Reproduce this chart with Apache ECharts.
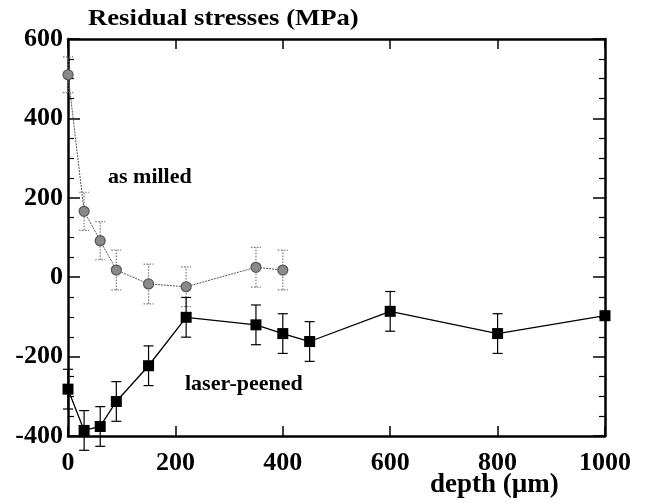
<!DOCTYPE html>
<html><head><meta charset="utf-8">
<script src="https://cdn.jsdelivr.net/npm/echarts@6/dist/echarts.min.js"></script>
<style>html,body{margin:0;padding:0;background:#fff}#c{width:648px;height:504px}</style>
</head><body><div id="c"></div>
<script>
var depthMilled = [0, 30, 60, 90, 150, 220, 350, 400];
var stressMilled = [510, 166, 92, 18, -17, -24, 25, 18];
var errMilled = [45, 48, 48, 50, 50, 50, 50, 50];
var depthLaser = [0, 30, 60, 90, 150, 220, 350, 400, 450, 600, 800, 1000];
var stressLaser = [-282, -386, -376, -313, -223, -101, -120, -142, -162, -86, -142, -97];
var errLaser = [50, 50, 50, 50, 50, 50, 50, 50, 50, 50, 50, 0];
var xTicks = [0, 200, 400, 600, 800, 1000];
var yTicks = [-400, -200, 0, 200, 400, 600];

var FONT = '"Liberation Serif", "DejaVu Serif", serif';
function pairs(xs, ys) { return xs.map(function (x, i) { return [x, ys[i]]; }); }
function errData(xs, ys, es) { return xs.map(function (x, i) { return [x, ys[i] - es[i], ys[i] + es[i]]; }); }
function errRender(color, dashed, cap) {
  return function (params, api) {
    var lo = api.coord([api.value(0), api.value(1)]);
    var hi = api.coord([api.value(0), api.value(2)]);
    var st = { stroke: color, lineWidth: 1.2, lineDash: dashed ? [1.5, 1.5] : null };
    return {
      type: 'group',
      children: [
        { type: 'line', shape: { x1: lo[0], y1: lo[1], x2: hi[0], y2: hi[1] }, style: st },
        { type: 'line', shape: { x1: lo[0] - cap, y1: lo[1], x2: lo[0] + cap, y2: lo[1] }, style: st },
        { type: 'line', shape: { x1: hi[0] - cap, y1: hi[1], x2: hi[0] + cap, y2: hi[1] }, style: st }
      ]
    };
  };
}
var axisLine = { show: true, onZero: false, lineStyle: { color: '#000', width: 2.5 } };
var chart = echarts.init(document.getElementById('c'), null, { renderer: 'canvas' });
chart.setOption({
  animation: false,
  backgroundColor: '#fff',
  grid: { left: 68, right: 43, top: 39, bottom: 68, containLabel: false },
  graphic: [
    { type: 'text', x: 88, y: 8, scaleX: 1.16, style: { text: 'Residual stresses (MPa)', font: 'bold 23px ' + FONT, fill: '#000' } },
    { type: 'text', x: 430, y: 472, style: { text: 'depth (\u00b5m)', font: 'bold 27px ' + FONT, fill: '#000' } },
    { type: 'text', x: 108, y: 166, style: { text: 'as milled', font: 'bold 22px ' + FONT, fill: '#000' } },
    { type: 'text', x: 185, y: 373, style: { text: 'laser-peened', font: 'bold 22px ' + FONT, fill: '#000' } }
  ],
  xAxis: [
    { type: 'value', min: 0, max: 1000, interval: 200, position: 'bottom',
      axisLine: axisLine, splitLine: { show: false },
      axisTick: { inside: true, length: 10, lineStyle: { color: '#000', width: 1.5 } },
      axisLabel: { margin: 14, fontFamily: FONT, fontWeight: 'bold', fontSize: 26, color: '#000',
        formatter: function (v) { return xTicks.indexOf(v) >= 0 ? String(v) : ''; } } },
    { type: 'value', min: 0, max: 1000, interval: 200, position: 'top',
      axisLine: axisLine, splitLine: { show: false },
      axisTick: { inside: true, length: 10, lineStyle: { color: '#000', width: 1.5 } },
      axisLabel: { show: false } }
  ],
  yAxis: [
    { type: 'value', min: -400, max: 600, interval: 200, position: 'left',
      axisLine: axisLine, splitLine: { show: false },
      axisTick: { inside: true, length: 12, lineStyle: { color: '#000', width: 1.5 } },
      minorTick: { show: true, splitNumber: 4, length: 6, lineStyle: { color: '#000', width: 1.2 } },
      minorSplitLine: { show: false },
      axisLabel: { margin: 5, fontFamily: FONT, fontWeight: 'bold', fontSize: 26, color: '#000',
        formatter: function (v) { return yTicks.indexOf(v) >= 0 ? String(v) : ''; } } },
    { type: 'value', min: -400, max: 600, interval: 200, position: 'right',
      axisLine: axisLine, splitLine: { show: false },
      axisTick: { inside: true, length: 12, lineStyle: { color: '#000', width: 1.5 } },
      minorTick: { show: true, splitNumber: 4, length: 6, lineStyle: { color: '#000', width: 1.2 } },
      minorSplitLine: { show: false },
      axisLabel: { show: false } }
  ],
  series: [
    { type: 'custom', name: 'errMilled', renderItem: errRender('#777', true, 5), data: errData(depthMilled, stressMilled, errMilled), z: 2, clip: false },
    { type: 'line', name: 'as milled', data: pairs(depthMilled, stressMilled), z: 3,
      lineStyle: { color: '#555', width: 1, type: [2, 1] },
      symbol: 'circle', symbolSize: 10,
      itemStyle: { color: '#8a8a8a', borderColor: '#555', borderWidth: 1.2 } },
    { type: 'custom', name: 'errLaser', renderItem: errRender('#000', false, 5), data: errData(depthLaser, stressLaser, errLaser), z: 4, clip: false },
    { type: 'line', name: 'laser-peened', data: pairs(depthLaser, stressLaser), z: 5,
      lineStyle: { color: '#000', width: 1.3 },
      symbol: 'rect', symbolSize: 11,
      itemStyle: { color: '#000' } }
  ]
});
</script></body></html>
